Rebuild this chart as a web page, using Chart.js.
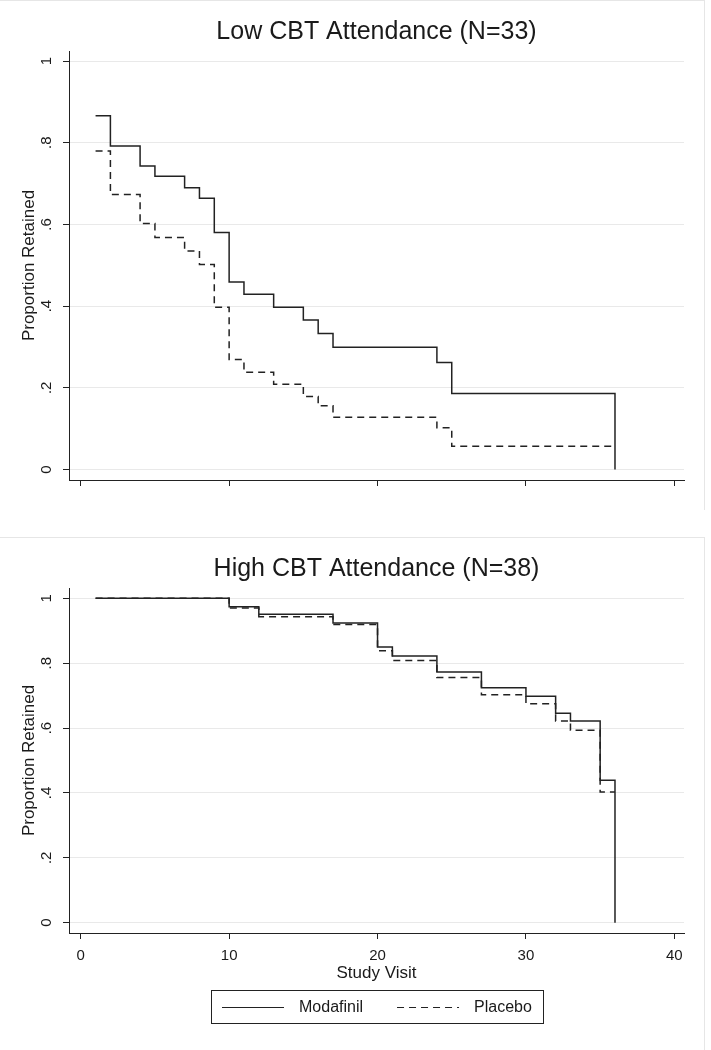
<!DOCTYPE html>
<html>
<head>
<meta charset="utf-8">
<script src="https://cdn.jsdelivr.net/npm/chart.js@4.4.1/dist/chart.umd.min.js"></script>
<style>
  body { margin: 0; background: #fff; }
  .panel { position: absolute; left: 0; width: 704px; border-top: 1px solid #e6e6e6; border-right: 1px solid #e6e6e6; }
  #lowPanel { top: 0; height: 509px; }
  #highPanel { top: 537px; height: 512px; }
  canvas { display: block; }
</style>
</head>
<body>
<div class="panel" id="lowPanel"><canvas id="low" width="704" height="509"></canvas></div>
<div class="panel" id="highPanel"><canvas id="high" width="704" height="512"></canvas></div>
<script>
const xTicks = [0, 10, 20, 30, 40];
const yTicks = [0, 0.2, 0.4, 0.6, 0.8, 1];
const yTickLabels = ['0', '.2', '.4', '.6', '.8', '1'];
const seriesNames = ['Modafinil', 'Placebo'];

const lowVisits = [1, 2, 4, 5, 7, 8, 9, 10, 11, 13, 15, 16, 17, 24, 25, 36];
const lowModafinil = [0.866, 0.792, 0.743, 0.718, 0.690, 0.664, 0.580, 0.459, 0.429, 0.397, 0.366, 0.333, 0.299, 0.262, 0.186, 0];
const lowPlacebo = [0.780, 0.673, 0.602, 0.568, 0.535, 0.502, 0.397, 0.269, 0.238, 0.209, 0.179, 0.156, 0.128, 0.102, 0.057, 0.057];

const highVisits = [1, 10, 12, 17, 20, 21, 24, 27, 30, 32, 33, 35, 36];
const highModafinil = [1, 0.974, 0.951, 0.924, 0.850, 0.822, 0.773, 0.724, 0.698, 0.646, 0.622, 0.439, 0];
const highPlacebo = [1, 0.970, 0.943, 0.919, 0.838, 0.808, 0.756, 0.703, 0.675, 0.622, 0.593, 0.403, 0.403];

const textColor = '#1a1a1a';
const lineColor = '#222';
const tickFont = { family: "'Liberation Sans Narrow', 'Liberation Sans', sans-serif", size: 15 };

// legend drawn as a framed box under the x axis title
const boxLegend = {
  id: 'boxLegend',
  afterDraw(chart, args, opts) {
    const ctx = chart.ctx;
    const area = chart.chartArea;
    ctx.save();
    ctx.font = opts.font;
    const items = chart.data.datasets.map((ds) => ({ ds, w: ctx.measureText(ds.label).width }));
    let total = opts.pad * 2 + opts.itemGap * (items.length - 1);
    items.forEach((it) => (total += opts.sample + opts.gap + it.w));
    const left = Math.round((area.left + area.right) / 2 - total / 2);
    ctx.strokeStyle = lineColor;
    ctx.lineWidth = 1;
    ctx.strokeRect(left + 0.5, opts.top + 0.5, Math.round(total), opts.height);
    let x = left + opts.pad;
    const y = Math.round(opts.top + opts.height / 2) + 0.5;
    items.forEach((it) => {
      ctx.beginPath();
      ctx.setLineDash(it.ds.borderDash || []);
      ctx.strokeStyle = it.ds.borderColor;
      ctx.lineWidth = 1;
      ctx.moveTo(x, y);
      ctx.lineTo(x + opts.sample, y);
      ctx.stroke();
      ctx.setLineDash([]);
      x += opts.sample + opts.gap;
      ctx.fillStyle = textColor;
      ctx.textBaseline = 'middle';
      ctx.textAlign = 'left';
      ctx.fillText(it.ds.label, x, y);
      x += it.w + opts.itemGap;
    });
    ctx.restore();
  },
};

function buildChart(id, title, visits, modafinil, placebo, cfg) {
  const ctx = document.getElementById(id).getContext('2d');

  const toPoints = (values) => visits.map((v, i) => ({ x: v, y: values[i] }));

  const chartData = {
    datasets: [
      {
        label: seriesNames[0],
        data: toPoints(modafinil),
        borderColor: lineColor,
        borderWidth: 1.5,
        stepped: 'before',
        pointRadius: 0,
      },
      {
        label: seriesNames[1],
        data: toPoints(placebo),
        borderColor: lineColor,
        borderWidth: 1.5,
        borderDash: [7, 5],
        stepped: 'before',
        pointRadius: 0,
      },
    ],
  };

  return new Chart(ctx, {
    type: 'scatter',
    data: chartData,
    plugins: cfg.legend ? [boxLegend] : [],
    options: {
      responsive: false,
      animation: false,
      showLine: true,
      layout: { padding: { left: 0, right: 20, top: 0, bottom: 0 } },
      plugins: {
        legend: { display: false },
        tooltip: { enabled: false },
        title: {
          display: true,
          text: title,
          fullSize: false,
          color: textColor,
          font: { family: "'Liberation Sans', Arial, sans-serif", size: 25, weight: 'normal', lineHeight: 1.2 },
          padding: { top: 16, bottom: 4 },
        },
        boxLegend: {
          font: "16px 'Liberation Sans', Arial, sans-serif",
          top: 452,
          height: 33,
          pad: 11,
          sample: 62,
          gap: 15,
          itemGap: 34,
        },
      },
      scales: {
        x: {
          type: 'linear',
          min: -0.79,
          max: 40.65,
          afterBuildTicks: (s) => { s.ticks = xTicks.map((v) => ({ value: v })); },
          afterFit: (s) => { s.height = cfg.xHeight; },
          grid: { drawOnChartArea: false, tickColor: lineColor, tickLength: 6 },
          border: { color: lineColor, width: 1 },
          ticks: {
            display: cfg.xLabels,
            color: textColor,
            font: tickFont,
            padding: 8,
            maxRotation: 0,
            callback: (v) => String(v),
          },
          title: {
            display: cfg.xLabels,
            text: 'Study Visit',
            color: textColor,
            font: { family: "'Liberation Sans', Arial, sans-serif", size: 17 },
            padding: { top: 0, bottom: 66 },
          },
        },
        y: {
          type: 'linear',
          min: cfg.yMin,
          max: cfg.yMax,
          afterBuildTicks: (s) => { s.ticks = yTicks.map((v) => ({ value: v })); },
          afterFit: (s) => { s.width = 69; },
          grid: { color: '#e9e9e9', tickColor: lineColor, tickLength: 6 },
          border: { color: lineColor, width: 1 },
          ticks: {
            color: textColor,
            font: tickFont,
            minRotation: 90,
            maxRotation: 90,
            crossAlign: 'center',
            padding: 10,
            callback: (v) => yTickLabels[yTicks.indexOf(Math.round(v * 10) / 10)],
          },
          title: {
            display: true,
            text: 'Proportion Retained',
            color: textColor,
            font: { family: "'Liberation Sans', Arial, sans-serif", size: 17 },
            padding: { top: 19, bottom: 0 },
          },
        },
      },
    },
  });
}

buildChart('low', 'Low CBT Attendance (N=33)', lowVisits, lowModafinil, lowPlacebo, {
  legend: false,
  xLabels: false,
  xHeight: 30,
  yMin: -0.0257,
  yMax: 1.0245,
});

buildChart('high', 'High CBT Attendance (N=38)', highVisits, highModafinil, highPlacebo, {
  legend: true,
  xLabels: true,
  xHeight: 117,
  yMin: -0.0318,
  yMax: 1.0318,
});
</script>
</body>
</html>
